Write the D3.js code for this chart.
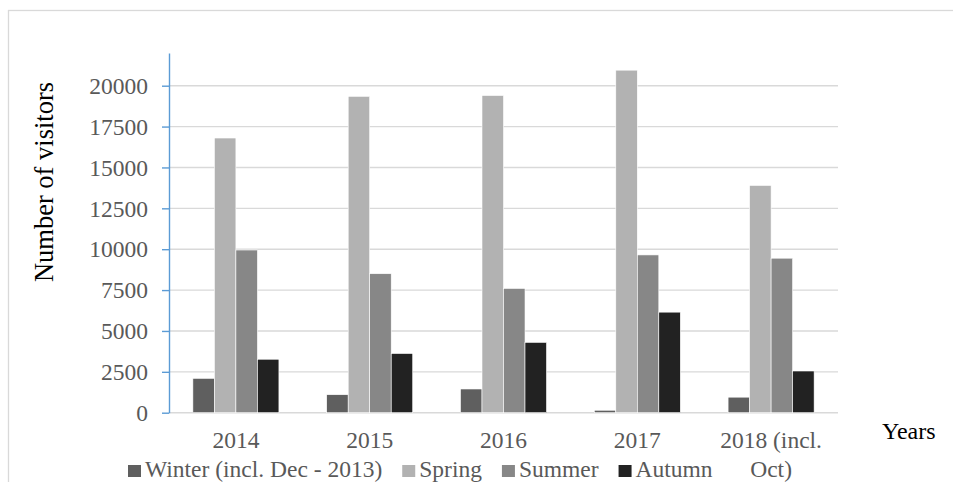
<!DOCTYPE html>
<html>
<head>
<meta charset="utf-8">
<script src="https://cdn.jsdelivr.net/npm/d3@7"></script>
<style>
  html, body { margin: 0; padding: 0; background: #fff; }
  svg { display: block; }
  svg text { font-family: "Liberation Serif", "Times New Roman", serif; }
</style>
</head>
<body>
<svg id="chart" width="953" height="482"></svg>
<script>
// Visitors per season, 2014 – 2018
const years = ["2014", "2015", "2016", "2017", "2018 (incl. Oct)"];
const seasons = ["Winter (incl. Dec - 2013)", "Spring", "Summer", "Autumn"];
const winter = [2100, 1100, 1450, 150, 950];
const spring = [16800, 19350, 19400, 20950, 13900];
const summer = [9950, 8500, 7600, 9650, 9450];
const autumn = [3270, 3620, 4300, 6150, 2550];
const yTicks = [0, 2500, 5000, 7500, 10000, 12500, 15000, 17500, 20000];
const seasonColors = ["#5f5f5f", "#b2b2b2", "#878787", "#222222"];

const seriesValues = [winter, spring, summer, autumn];
const rows = years.map((y, i) => ({
  year: y,
  values: seasons.map((s, k) => ({ season: s, k, value: seriesValues[k][i] }))
}));

const svg = d3.select("#chart");

// chart frame
svg.append("rect")
  .attr("x", 8.5).attr("y", 10.5)
  .attr("width", 960).attr("height", 490)
  .attr("fill", "none").attr("stroke", "#d9d9d9").attr("stroke-width", 1.3);

const plot = { left: 169, right: 838, top: 53, bottom: 412.7 };

const x0 = d3.scaleBand().domain(years).range([plot.left, plot.right]).paddingInner(0.357).paddingOuter(0.1785);
const x1 = d3.scaleBand().domain(d3.range(seasons.length)).range([0, x0.bandwidth()]);
const y = d3.scaleLinear().domain([0, 22000]).range([plot.bottom, plot.top]);

// horizontal gridlines
svg.append("g").selectAll("line").data(yTicks).join("line")
  .attr("x1", plot.left).attr("x2", plot.right)
  .attr("y1", d => y(d)).attr("y2", d => y(d))
  .attr("stroke", "#d9d9d9").attr("stroke-width", 1.4);

// bars
svg.append("g").selectAll("g").data(rows).join("g")
  .attr("transform", d => `translate(${x0(d.year)},0)`)
  .selectAll("rect").data(d => d.values).join("rect")
  .attr("x", d => x1(d.k))
  .attr("width", x1.bandwidth())
  .attr("y", d => y(d.value))
  .attr("height", d => y(0) - y(d.value))
  .attr("fill", d => seasonColors[d.k])
  .attr("stroke", "#ffffff").attr("stroke-width", 0.6);

// y axis
const yAxis = svg.append("g")
  .attr("transform", `translate(${plot.left},0)`)
  .call(d3.axisLeft(y).tickValues(yTicks).tickSize(7).tickSizeOuter(0).tickPadding(14).tickFormat(d3.format("d")));
yAxis.attr("font-family", null).attr("font-size", null);
yAxis.select(".domain").attr("stroke", "#5b9bd5").attr("stroke-width", 1.4);
yAxis.selectAll(".tick line").attr("stroke", "#5b9bd5").attr("stroke-width", 1.4);
yAxis.selectAll(".tick text")
  .attr("fill", "#595959")
  .style("font-size", "23.5px")
  .attr("dy", "0.33em");

// category labels (last one wraps over two lines)
const catLines = { "2018 (incl. Oct)": ["2018 (incl.", "Oct)"] };
const cats = svg.append("g").selectAll("text").data(years).join("text")
  .attr("x", d => x0(d) + x0.bandwidth() / 2)
  .attr("y", 448)
  .attr("text-anchor", "middle")
  .attr("fill", "#595959").style("font-size", "23.5px");
cats.each(function(d) {
  const lines = catLines[d] || [d];
  const t = d3.select(this);
  lines.forEach((ln, i) => {
    t.append("tspan").attr("x", x0(d) + x0.bandwidth() / 2).attr("dy", i === 0 ? 0 : 29).text(ln);
  });
});

// axis titles
svg.append("text")
  .attr("transform", "translate(53,182) rotate(-90)")
  .attr("text-anchor", "middle")
  .attr("fill", "#000").style("font-size", "26.5px")
  .text("Number of visitors");

svg.append("text")
  .attr("x", 882).attr("y", 439)
  .attr("fill", "#000").style("font-size", "24px")
  .text("Years");

// legend
const legend = svg.append("g");
let lx = 128;
seasons.forEach((s, k) => {
  legend.append("rect")
    .attr("x", lx).attr("y", 465)
    .attr("width", 13).attr("height", 12)
    .attr("fill", seasonColors[k]);
  const t = legend.append("text")
    .attr("x", lx + 17).attr("y", 477)
    .attr("fill", "#595959").style("font-size", "23.5px")
    .text(s);
  lx += 17 + t.node().getComputedTextLength() + 20;
});
</script>
</body>
</html>
